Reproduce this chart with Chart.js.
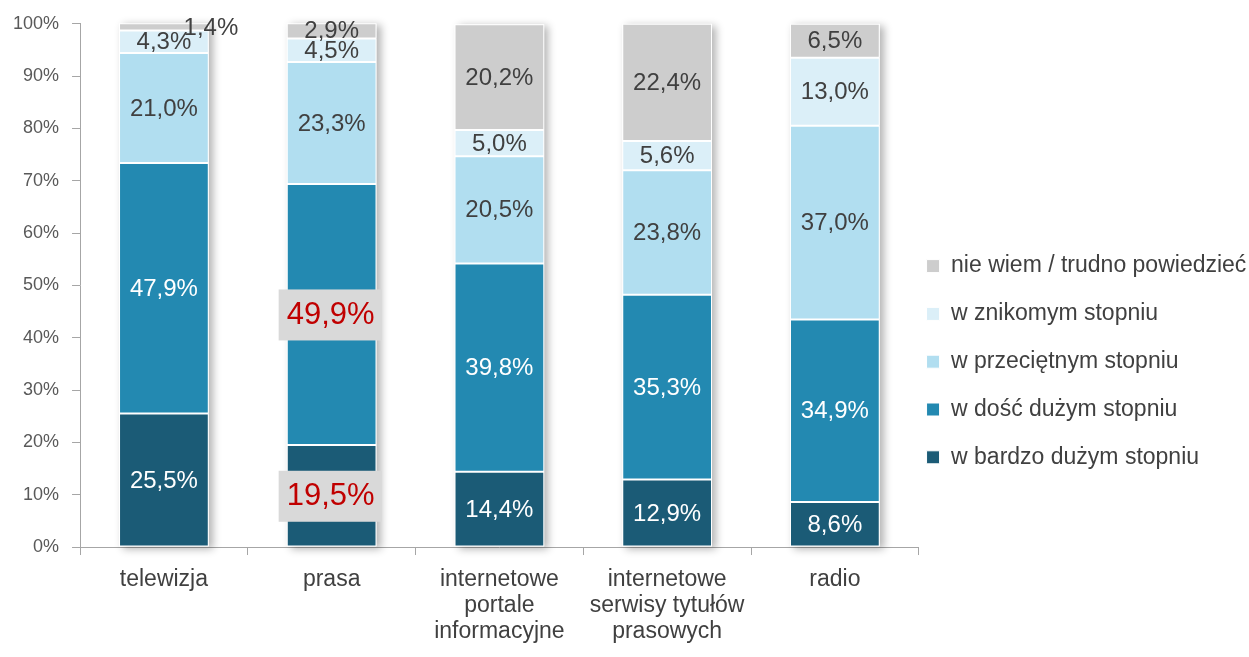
<!DOCTYPE html>
<html lang="pl">
<head>
<meta charset="utf-8">
<title>Stopień zaufania do mediów</title>
<script src="https://cdn.jsdelivr.net/npm/chart.js@4.4.1/dist/chart.umd.min.js"></script>
<style>
  html, body { margin: 0; padding: 0; background: #ffffff; }
  #wrap { width: 1249px; height: 657px; position: relative; }
</style>
</head>
<body>
<div id="wrap"><canvas id="chart" width="1249" height="657"></canvas></div>
<script>
// Kategorie mediów (etykiety osi X, wielowierszowe)
const categories = [
  ['telewizja'],
  ['prasa'],
  ['internetowe', 'portale', 'informacyjne'],
  ['internetowe', 'serwisy tytułów', 'prasowych'],
  ['radio']
];

// Nazwy serii (od dołu słupka do góry)
const seriesNames = [
  'w bardzo dużym stopniu',
  'w dość dużym stopniu',
  'w przeciętnym stopniu',
  'w znikomym stopniu',
  'nie wiem / trudno powiedzieć'
];

// Wartości procentowe dla każdej serii
const bardzoDuzym = [25.5, 19.5, 14.4, 12.9, 8.6];
const doscDuzym   = [47.9, 49.9, 39.8, 35.3, 34.9];
const przecietnym = [21.0, 23.3, 20.5, 23.8, 37.0];
const znikomym    = [4.3, 4.5, 5.0, 5.6, 13.0];
const nieWiem     = [1.4, 2.9, 20.2, 22.4, 6.5];

// Podziałka osi Y
const yTickValues = [0, 10, 20, 30, 40, 50, 60, 70, 80, 90, 100];

const seriesValues = [bardzoDuzym, doscDuzym, przecietnym, znikomym, nieWiem];
const seriesColors = ['#1b5b76', '#2389b1', '#b1def0', '#dbeff8', '#cdcdcd'];
const labelColors  = ['#ffffff', '#ffffff', '#404040', '#404040', '#404040'];

// Etykiety wyróżnione (seria, kategoria) – czerwony tekst na szarym tle
const highlighted = [[0, 1], [1, 1]];
// Etykiety przesunięte w bok (seria, kategoria, przesunięcie x)
const shifted = [[4, 0, 47]];

const FONT = "'Liberation Sans', Arial, sans-serif";

const fmt = v => v.toFixed(1).replace('.', ',') + '%';

// Cień pod całymi słupkami
const barShadow = {
  id: 'barShadow',
  beforeDatasetsDraw(chart) {
    const ctx = chart.ctx;
    const bottomMeta = chart.getDatasetMeta(0);
    const topMeta = chart.getDatasetMeta(chart.data.datasets.length - 1);
    ctx.save();
    ctx.shadowColor = 'rgba(0,0,0,0.3)';
    ctx.shadowBlur = 8;
    ctx.shadowOffsetX = 4;
    ctx.shadowOffsetY = 2;
    ctx.fillStyle = '#ffffff';
    bottomMeta.data.forEach((el, i) => {
      const top = topMeta.data[i].y;
      const base = el.base;
      const w = el.width;
      ctx.fillRect(el.x - w / 2, top, w, base - top);
    });
    ctx.restore();
  }
};

// Legenda: pełna szerokość do prawej krawędzi, bliżej obszaru wykresu
const legendOffset = {
  id: 'legendOffset',
  afterLayout(chart) {
    const lg = chart.legend;
    if (lg) {
      lg.left = chart.chartArea.right - 17;
      lg.right = chart.width;
      lg.width = lg.right - lg.left;
    }
  }
};

// Etykiety wartości na segmentach
const valueLabels = {
  id: 'valueLabels',
  afterDatasetsDraw(chart) {
    const ctx = chart.ctx;
    ctx.save();
    ctx.textAlign = 'center';
    ctx.textBaseline = 'middle';
    chart.data.datasets.forEach((ds, di) => {
      const meta = chart.getDatasetMeta(di);
      meta.data.forEach((el, i) => {
        const v = ds.data[i];
        let x = el.x;
        const y = (el.y + el.base) / 2;
        const isHi = highlighted.some(h => h[0] === di && h[1] === i);
        const sh = shifted.find(s => s[0] === di && s[1] === i);
        if (sh) x += sh[2];
        const text = fmt(v);
        if (isHi) {
          ctx.font = '31px ' + FONT;
          ctx.fillStyle = '#d9d9d9';
          ctx.fillRect(x - 53, y - 25, 103, 51);
          ctx.fillStyle = '#c00000';
          ctx.fillText(text, x - 1, y + 1);
        } else {
          ctx.font = '24px ' + FONT;
          ctx.fillStyle = labelColors[di];
          ctx.fillText(text, x, y + 1);
        }
      });
    });
    ctx.restore();
  }
};

const datasets = seriesNames.map((name, k) => ({
  label: name,
  data: seriesValues[k],
  backgroundColor: seriesColors[k],
  borderColor: '#ffffff',
  borderWidth: 1,
  borderSkipped: false,
  categoryPercentage: 0.535,
  barPercentage: 1.0
}));

new Chart(document.getElementById('chart'), {
  type: 'bar',
  data: { labels: categories, datasets },
  options: {
    responsive: false,
    animation: false,
    devicePixelRatio: 1,
    layout: { padding: { left: 0, right: 24, top: 21, bottom: 0 } },
    scales: {
      x: {
        stacked: true,
        grid: { display: true, drawOnChartArea: false, color: '#a6a6a6', tickLength: 8, offset: true },
        border: { display: true, color: '#a6a6a6', width: 1 },
        ticks: {
          color: '#404040',
          font: { family: FONT, size: 23, lineHeight: 1.13 },
          padding: 12,
          maxRotation: 0,
          autoSkip: false
        }
      },
      y: {
        stacked: true,
        min: 0,
        max: 100,
        afterBuildTicks(axis) { axis.ticks = yTickValues.map(v => ({ value: v })); },
        grid: { display: true, drawOnChartArea: false, color: '#a6a6a6', tickLength: 8 },
        border: { display: true, color: '#a6a6a6', width: 1 },
        ticks: {
          color: '#595959',
          font: { family: FONT, size: 18 },
          padding: 13,
          callback: v => v + '%'
        }
      }
    },
    plugins: {
      legend: {
        position: 'right',
        reverse: true,
        title: { display: true, text: '', font: { size: 12 }, padding: { top: 31, bottom: 0 } },
        labels: {
          color: '#404040',
          font: { family: FONT, size: 23 },
          boxWidth: 13,
          boxHeight: 13,
          padding: 24.8
        }
      },
      tooltip: { enabled: false }
    }
  },
  plugins: [barShadow, valueLabels, legendOffset]
});
</script>
</body>
</html>
